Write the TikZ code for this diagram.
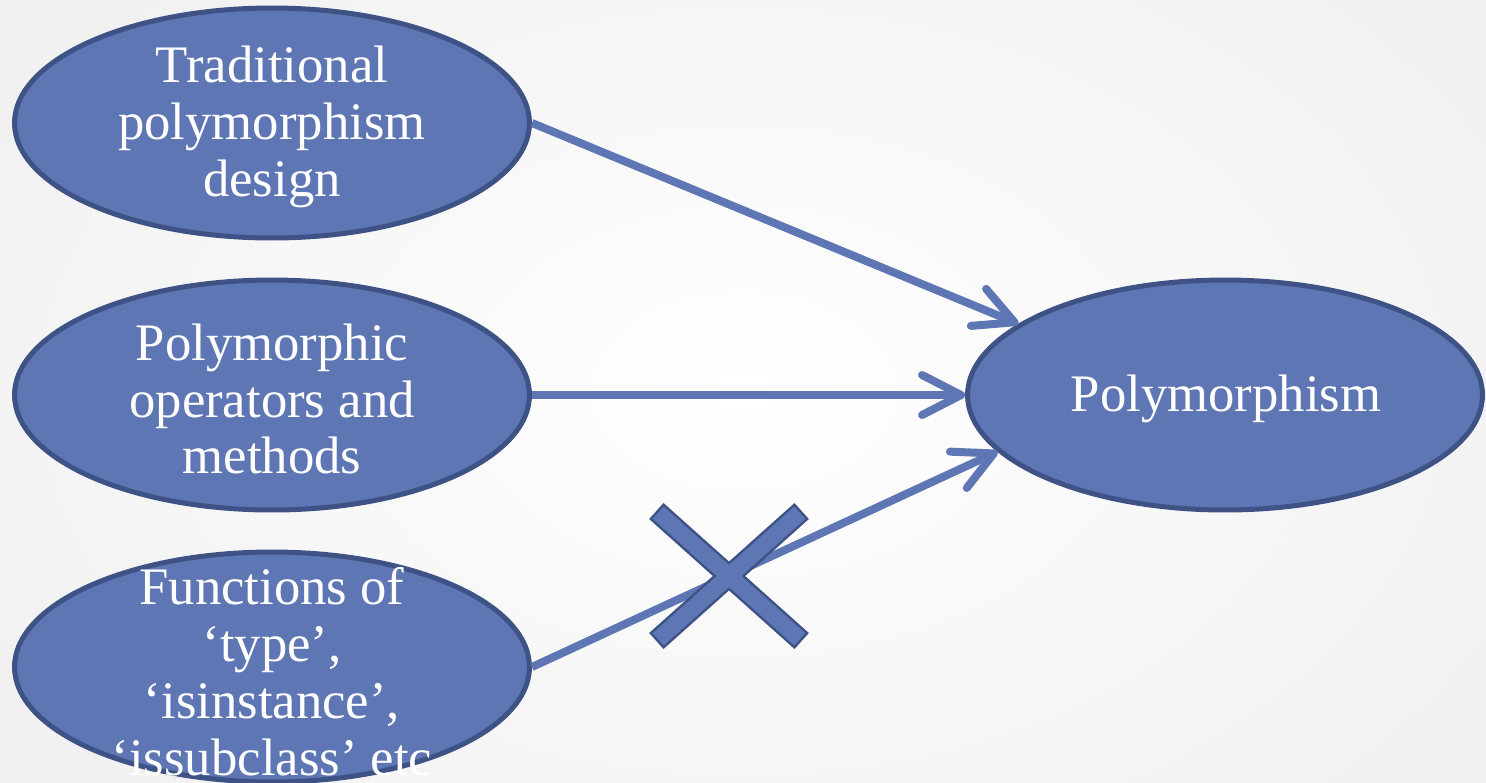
\documentclass[tikz,border=0pt]{standalone}
\usepackage{fontspec}
\setmainfont{Liberation Serif}
\usetikzlibrary{arrows.meta,shapes.geometric}
\definecolor{blobfill}{RGB}{94,118,180}
\definecolor{blobline}{RGB}{62,82,133}
\definecolor{bgedge}{RGB}{238,238,238}
\tikzset{
  blob/.style={ellipse, fill=blobfill, draw=blobline, line width=0.1cm,
    minimum width=10.3cm, minimum height=4.6cm, inner sep=0pt},
  lbl/.style={text=white, align=center, inner sep=0pt,
    font=\fontsize{30}{32.4}\selectfont},
  conn/.style={draw=blobfill, line width=0.16cm,
    -{Straight Barb[length=0.78cm,width=0.8cm,round]}},
  xbarout/.style={rectangle, draw=blobline, line width=0.1cm, fill=blobline,
    minimum width=3.8cm, minimum height=0.33cm, inner sep=0pt},
  xbarin/.style={rectangle, fill=blobfill,
    minimum width=3.8cm, minimum height=0.33cm, inner sep=0pt}
}
\begin{document}
\begin{tikzpicture}[x=0.02cm,y=-0.02cm]
\useasboundingbox (0,0) rectangle (1486,782);
\shade[inner color=white, outer color=bgedge] (-300,-300) rectangle (1786,1082);

\node[blob] (t) at (272,123) {};
\node[lbl] (tl) at (272,127) {Traditional\\polymorphism\\design};
\node[blob] (o) at (272,395) {};
\node[lbl] (ol) at (272,399) {Polymorphic\\operators and\\methods};
\node[blob] (f) at (272,667) {};
\node[lbl] (fl) at (272,672) {Functions of\\‘type’,\\‘isinstance’,\\‘issubclass’ etc};
\node[blob] (p) at (1225,395) {};
\node[lbl] (pl) at (1226,399) {Polymorphism};

\draw[conn] (t.east) -- (p.161.6);
\draw[conn] (o.east) -- (p.west);
\draw[conn] (f.east) -- (p.194.4);

\node[xbarout, rotate=-41.8] (xa) at (729,576) {};
\node[xbarout, rotate=41.8] (xb) at (729,576) {};
\node[xbarin, rotate=-41.8] (xa2) at (xa) {};
\node[xbarin, rotate=41.8] (xb2) at (xb) {};
\end{tikzpicture}
\end{document}
